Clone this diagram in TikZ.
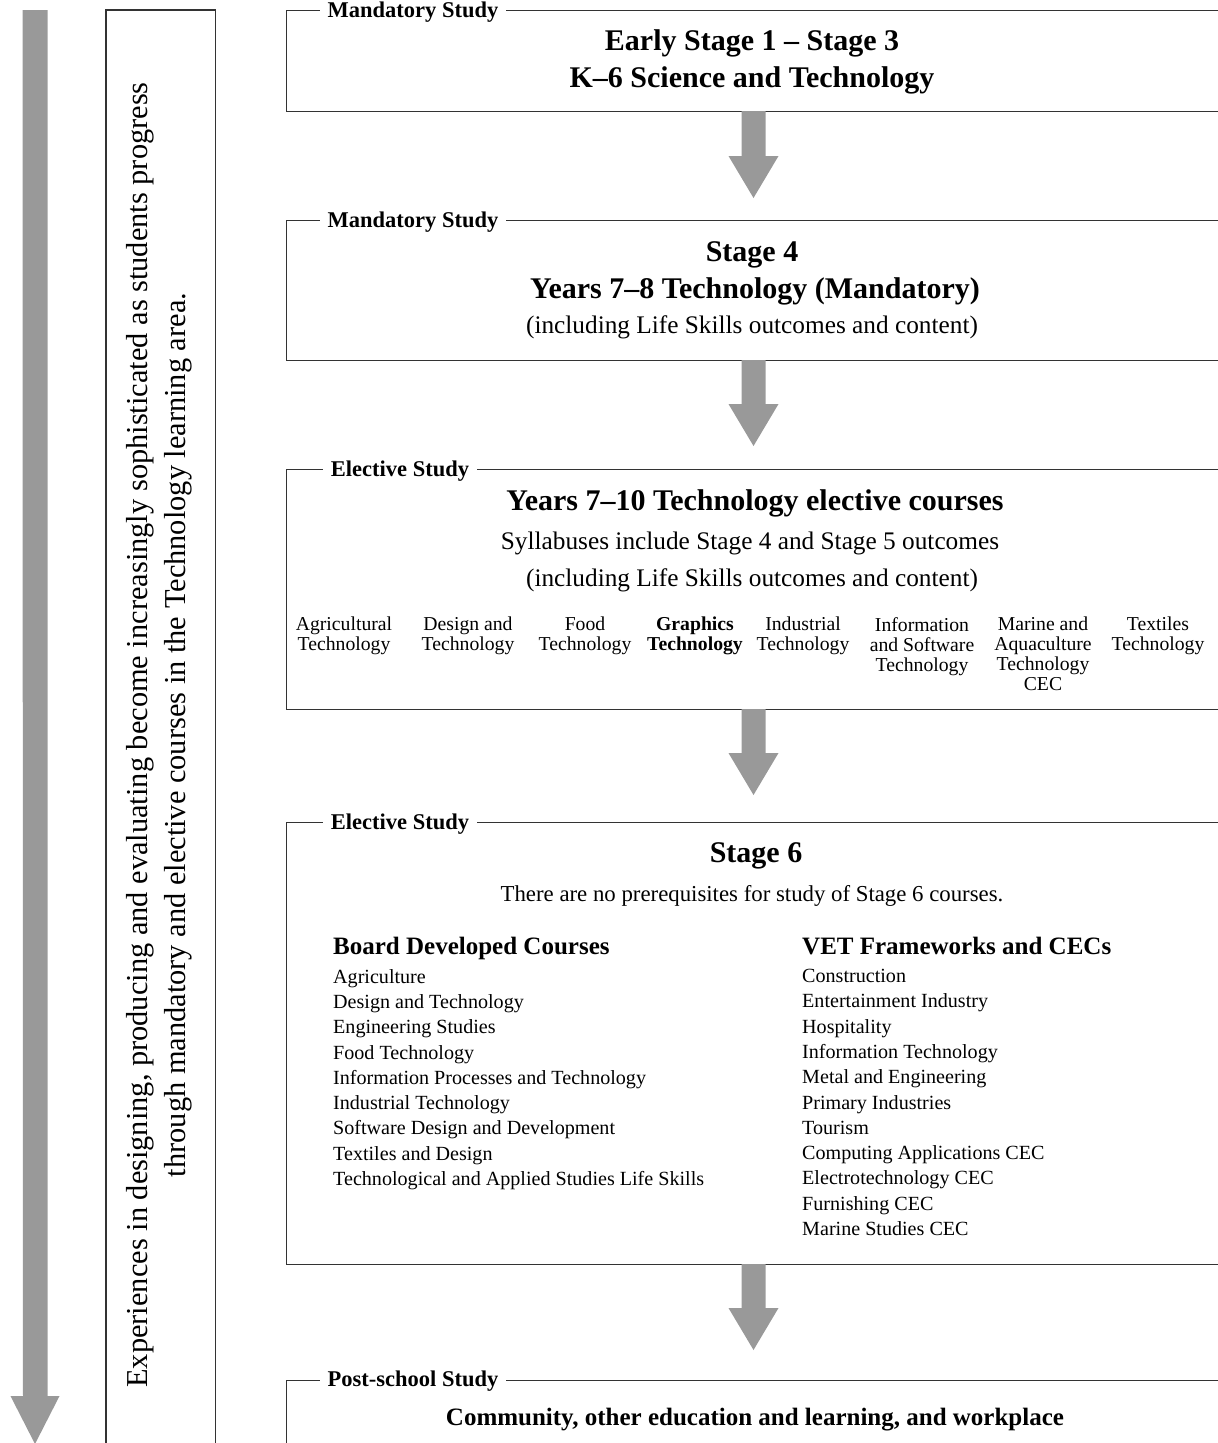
\documentclass[tikz,border=0pt]{standalone}
\usepackage{fontspec}
\setmainfont{Liberation Serif}
\definecolor{flowgray}{HTML}{999999}
\definecolor{rulegray}{HTML}{333333}

\begin{document}
\begin{tikzpicture}[x=1pt,y=-1pt,
  stagebox/.style={draw=rulegray,line width=1.3pt,anchor=north west,minimum width=960pt,inner sep=0pt},
  txt/.style={inner sep=0pt,text height=.72em,text depth=.22em},
  boxlabel/.style={txt,fill=white,inner xsep=8pt,inner ysep=1pt,font=\fontsize{22.5}{26}\selectfont\bfseries},
  title/.style={txt,font=\fontsize{30}{37}\selectfont\bfseries},
  subtitle/.style={txt,font=\fontsize{25.3}{30}\selectfont},
  course/.style={inner sep=0pt,anchor=north,align=center,font=\fontsize{19.7}{20}\selectfont},
  listhead/.style={txt,anchor=west,font=\fontsize{25}{30}\selectfont\bfseries},
  courselist/.style={inner sep=0pt,anchor=north west,align=left,font=\fontsize{20.1}{25.3}\selectfont},
  note/.style={inner sep=0pt,align=center,rotate=90,font=\fontsize{30.4}{38}\selectfont},
  flow/.style={fill=flowgray}]
  \useasboundingbox (0,0) rectangle (1218,1443);
  \clip (0,0) rectangle (1218,1443);

  % progress arrow down the left side
  \coordinate (pa) at (35,10);
  \coordinate (pb) at (35,1444);
  \fill[flow] (pa) ++(-12.5,0) -- ++(25,0) -- ++(0,1386) -- ++(12,0) -- (pb) -- ++(-24.5,-48) -- ++(12.5,0) -- cycle;
  \draw[draw=rulegray,line width=1.3pt] (106,1460) -- (106,10) -- (215.5,10) -- (215.5,1460);
  \node[note] (progress) at (159,735) {Experiences in designing, producing and evaluating become increasingly sophisticated as students progress\\through mandatory and elective courses in the Technology learning area.};

  % stage boxes
  \node[stagebox,minimum height=101pt] (k6) at (286,10) {};
  \node[stagebox,minimum height=140pt] (s4) at (286,220) {};
  \node[stagebox,minimum height=240pt] (elect) at (286,469) {};
  \node[stagebox,minimum height=442pt] (s6) at (286,822) {};
  \node[stagebox,minimum height=120pt] (post) at (286,1380) {};

  \node[boxlabel] (k6lab) at (413,15) {Mandatory Study};
  \node[boxlabel] (s4lab) at (413,225) {Mandatory Study};
  \node[boxlabel] (electlab) at (400,474) {Elective Study};
  \node[boxlabel] (s6lab) at (400,827) {Elective Study};
  \node[boxlabel] (postlab) at (413,1384) {Post-school Study};

  % arrows between the stages
  \coordinate (a1) at (753.5,111);  \coordinate (b1) at (753.5,198);
  \coordinate (a2) at (753.5,360);  \coordinate (b2) at (753.5,446);
  \coordinate (a3) at (753.5,709);  \coordinate (b3) at (753.5,795);
  \coordinate (a4) at (753.5,1264); \coordinate (b4) at (753.5,1350);
  \fill[flow] (a1) ++(-12,0) -- ++(24,0) -- ++(0,45) -- ++(13,0) -- (b1) -- ++(-25,-42) -- ++(13,0) -- cycle;
  \fill[flow] (a2) ++(-12,0) -- ++(24,0) -- ++(0,44) -- ++(13,0) -- (b2) -- ++(-25,-42) -- ++(13,0) -- cycle;
  \fill[flow] (a3) ++(-12,0) -- ++(24,0) -- ++(0,44) -- ++(13,0) -- (b3) -- ++(-25,-42) -- ++(13,0) -- cycle;
  \fill[flow] (a4) ++(-12,0) -- ++(24,0) -- ++(0,44) -- ++(13,0) -- (b4) -- ++(-25,-42) -- ++(13,0) -- cycle;

  % K-6
  \node[title] (k6a) at (752,48) {Early Stage 1 – Stage 3};
  \node[title] (k6b) at (752,85) {K–6 Science and Technology};

  % stage 4
  \node[title] (s4a) at (752,259) {Stage 4};
  \node[title] (s4b) at (755,296) {Years 7–8 Technology (Mandatory)};
  \node[subtitle] (s4c) at (752,331) {(including Life Skills outcomes and content)};

  % years 7-10 electives
  \node[title] (ela) at (755,508) {Years 7–10 Technology elective courses};
  \node[subtitle] (elb) at (750,547) {Syllabuses include Stage 4 and Stage 5 outcomes};
  \node[subtitle] (elc) at (752,584) {(including Life Skills outcomes and content)};
  \node[course] (c1) at (344,617) {Agricultural\\Technology};
  \node[course] (c2) at (468,617) {Design and\\Technology};
  \node[course] (c3) at (585,617) {Food\\Technology};
  \node[course,font=\fontsize{19.7}{20}\selectfont\bfseries] (c4) at (695,617) {Graphics\\Technology};
  \node[course] (c5) at (803,617) {Industrial\\Technology};
  \node[course] (c6) at (922,617) {Information\\and Software\\Technology};
  \node[course] (c7) at (1043,617) {Marine and\\Aquaculture\\Technology\\CEC};
  \node[course] (c8) at (1158,617) {Textiles\\Technology};

  % stage 6
  \node[title] (s6a) at (756,860) {Stage 6};
  \node[subtitle,font=\fontsize{22.8}{26}\selectfont] (s6b) at (752,899) {There are no prerequisites for study of Stage 6 courses.};
  \node[listhead] (bdc) at (333,952) {Board Developed Courses};
  \node[courselist] (bdclist) at (333,969) {Agriculture\\Design and Technology\\Engineering Studies\\Food Technology\\Information Processes and Technology\\Industrial Technology\\Software Design and Development\\Textiles and Design\\Technological and Applied Studies Life Skills};
  \node[listhead] (vet) at (802,952) {VET Frameworks and CECs};
  \node[courselist] (vetlist) at (802,969) {Construction\\Entertainment Industry\\Hospitality\\Information Technology\\Metal and Engineering\\Primary Industries\\Tourism\\Computing Applications CEC\\Electrotechnology CEC\\Furnishing CEC\\Marine Studies CEC};

  % post-school
  \node[title,font=\fontsize{25}{30}\selectfont\bfseries] (posta) at (755,1423) {Community, other education and learning, and workplace};
\end{tikzpicture}
\end{document}
